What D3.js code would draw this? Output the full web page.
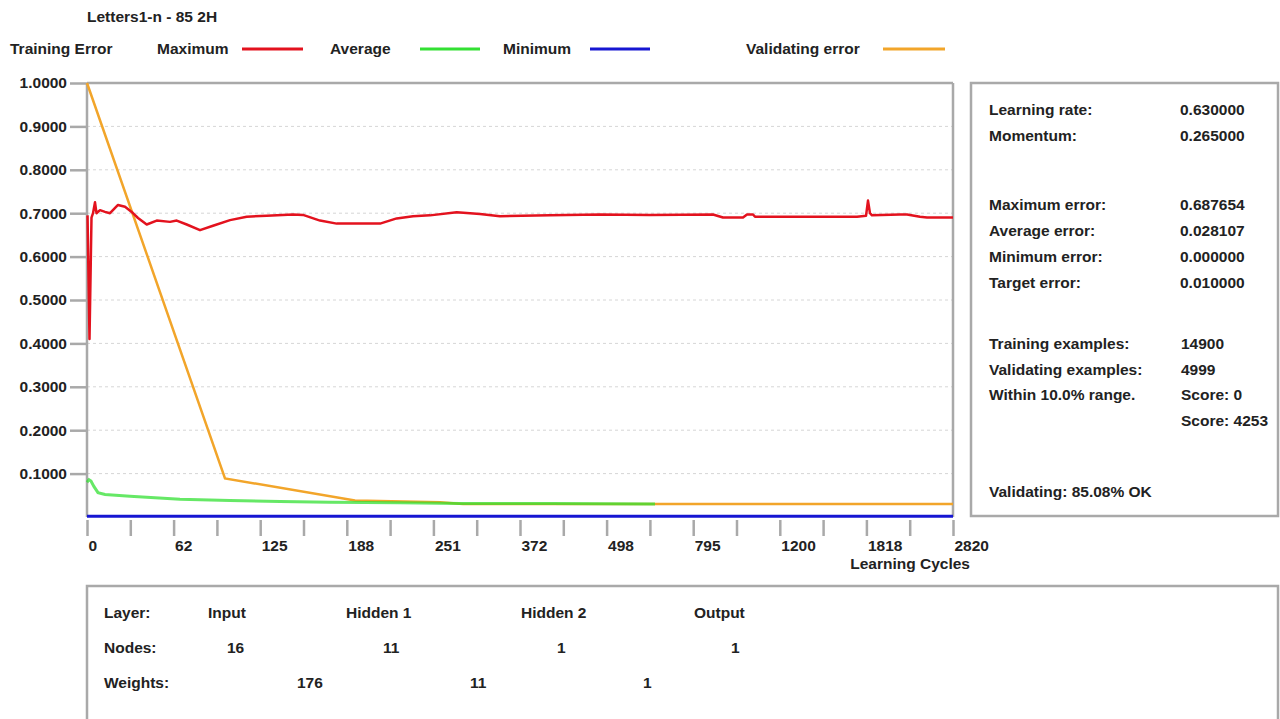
<!DOCTYPE html>
<html>
<head>
<meta charset="utf-8">
<script src="https://cdn.jsdelivr.net/npm/d3@7"></script>
<style>
  html, body { margin: 0; padding: 0; background: #fff; }
  svg { display: block; }
  text { font-family: "Liberation Sans", Arial, sans-serif; font-weight: bold; font-size: 15.5px; fill: #222; }
</style>
</head>
<body>
<svg id="chart" width="1280" height="719"></svg>
<script>
// ---------- data ----------
const title = "Letters1-n - 85 2H";
// x positions are in axis units (0..20 = the 21 ticks of the learning-cycle axis)
const xTickLabels = ["0","62","125","188","251","372","498","795","1200","1818","2820"];
const yTickValues = [0.1,0.2,0.3,0.4,0.5,0.6,0.7,0.8,0.9,1.0];

const maxPos = [0.012,0.058,0.104,0.139,0.185,0.219,0.300,0.416,0.531,0.716,0.878,1.032,1.178,1.379,1.610,1.917,2.072,2.303,2.610,2.910,3.303,3.688,4.150,4.758,4.988,5.381,5.767,6.767,7.152,7.529,7.921,8.538,9.076,9.538,10.693,11.848,13.002,14.457,14.688,15.150,15.242,15.381,15.427,17.783,17.991,18.037,18.083,18.129,18.776,18.938,19.238,19.400,20.000];
const maxVal = [0.695,0.410,0.690,0.700,0.725,0.700,0.707,0.703,0.700,0.719,0.715,0.703,0.689,0.674,0.683,0.680,0.683,0.674,0.661,0.671,0.684,0.692,0.694,0.697,0.696,0.683,0.676,0.676,0.688,0.693,0.695,0.702,0.698,0.693,0.695,0.697,0.696,0.697,0.690,0.690,0.697,0.697,0.692,0.692,0.694,0.729,0.700,0.695,0.697,0.697,0.692,0.690,0.690];

const avgPos = [0.000,0.046,0.092,0.162,0.254,0.416,0.993,2.148,3.303,4.457,5.612,7.229,8.614,10.693,13.118];
const avgVal = [0.080,0.086,0.083,0.070,0.056,0.052,0.048,0.041,0.038,0.036,0.034,0.033,0.031,0.031,0.030];

const minPos = [0, 20];
const minVal = [0.002, 0.002];

const valPos = [0.000,3.187,6.189,8.152,8.684,20.000];
const valVal = [1.000,0.089,0.038,0.034,0.030,0.030];

const legendItems = ["Maximum","Average","Minimum","Validating error"];

const infoLabels = ["Learning rate:","Momentum:","Maximum error:","Average error:","Minimum error:","Target error:","Training examples:","Validating examples:","Within 10.0% range.","","Validating: 85.08% OK"];
const infoValues = ["0.630000","0.265000","0.687654","0.028107","0.000000","0.010000","14900","4999","Score: 0","Score: 4253",""];

const layerNames = ["Input","Hidden 1","Hidden 2","Output"];
const layerNodes = ["16","11","1","1"];
const layerWeights = ["176","11","1"];

// ---------- drawing ----------
const svg = d3.select("#chart");
const colors = { max: "#e3121e", avg: "#33e033", min: "#1616d2", val: "#f2a52a" };
const frameColor = "#a9a9a9";

const x = d3.scaleLinear().domain([0, 20]).range([87, 953]);
const y = d3.scaleLinear().domain([0, 1]).range([517, 83]);

// title
svg.append("text").attr("x", 87).attr("y", 22).text(title);

// legend
const legY = 54;
svg.append("text").attr("x", 10).attr("y", legY).text("Training Error");
const legendX = [157, 330, 503, 746];
const legendLine = [[242,303],[420,480],[590,650],[883,945]];
const legendCol = [colors.max, colors.avg, colors.min, colors.val];
legendItems.forEach((t, i) => {
  svg.append("text").attr("x", legendX[i]).attr("y", legY).text(t);
  svg.append("line").attr("x1", legendLine[i][0]).attr("x2", legendLine[i][1])
    .attr("y1", legY - 5).attr("y2", legY - 5)
    .attr("stroke", legendCol[i]).attr("stroke-width", 3);
});

// gridlines
svg.append("g").selectAll("line").data(yTickValues.filter(v => v < 1)).join("line")
  .attr("x1", x(0)).attr("x2", x(20))
  .attr("y1", d => y(d)).attr("y2", d => y(d))
  .attr("stroke", "#d6d6d6").attr("stroke-width", 1).attr("stroke-dasharray", "3,3");

// y axis
const yAxis = d3.axisLeft(y).tickValues(yTickValues).tickSize(17).tickPadding(3)
  .tickFormat(d3.format(".4f"));
const gy = svg.append("g").attr("transform", `translate(${x(0)},0)`).call(yAxis);
gy.select(".domain").remove();
gy.selectAll(".tick line").attr("stroke", frameColor).attr("stroke-width", 2.5);
gy.selectAll(".tick text").attr("font-size", 15.5).attr("font-family", null).attr("fill", "#222");

// x axis
const xAxis = d3.axisBottom(x).tickValues(d3.range(0, 21)).tickSize(16).tickPadding(4)
  .tickFormat(d => d % 2 === 0 ? xTickLabels[d / 2] : "");
const gx = svg.append("g").attr("transform", `translate(0,520)`).call(xAxis);
gx.select(".domain").remove();
gx.selectAll(".tick line").attr("stroke", frameColor).attr("stroke-width", 2.5);
gx.selectAll(".tick text").attr("font-size", 15.5).attr("font-family", null).attr("fill", "#222")
  .attr("text-anchor", "start").attr("x", 1);
svg.append("text").attr("x", 970).attr("y", 569).attr("text-anchor", "end").text("Learning Cycles");

// frame
svg.append("line").attr("x1", x(0)).attr("x2", x(20)).attr("y1", y(1)).attr("y2", y(1))
  .attr("stroke", frameColor).attr("stroke-width", 2.5);
svg.append("line").attr("x1", x(0)).attr("x2", x(0)).attr("y1", y(1)).attr("y2", y(0))
  .attr("stroke", frameColor).attr("stroke-width", 2.5);
svg.append("line").attr("x1", x(20)).attr("x2", x(20)).attr("y1", y(1)).attr("y2", y(0))
  .attr("stroke", frameColor).attr("stroke-width", 2.5);

// series
const line = d3.line().x(d => x(d[0])).y(d => y(d[1]));
const zip = (a, b) => a.map((v, i) => [v, b[i]]);
svg.append("path").datum(zip(valPos, valVal)).attr("d", line)
  .attr("fill", "none").attr("stroke", colors.val).attr("stroke-width", 2.5);
svg.append("path").datum(zip(avgPos, avgVal)).attr("d", line)
  .attr("fill", "none").attr("stroke", colors.avg).attr("stroke-width", 3).attr("stroke-opacity", 0.75);
svg.append("path").datum(zip(minPos, minVal)).attr("d", line)
  .attr("fill", "none").attr("stroke", colors.min).attr("stroke-width", 3);
svg.append("path").datum(zip(maxPos, maxVal)).attr("d", line)
  .attr("fill", "none").attr("stroke", colors.max).attr("stroke-width", 2.5)
  .attr("stroke-linejoin", "round");

// right info panel
svg.append("rect").attr("x", 971).attr("y", 83).attr("width", 307).attr("height", 433)
  .attr("fill", "none").attr("stroke", frameColor).attr("stroke-width", 2.5);
const infoY = [110, 136, 205, 231, 257, 283, 344, 370, 395, 421, 492];
infoLabels.forEach((t, i) => {
  if (t) svg.append("text").attr("x", 989).attr("y", infoY[i] + 5).text(t);
  if (infoValues[i]) svg.append("text").attr("x", i >= 6 ? 1181 : 1180).attr("y", infoY[i] + 5).text(infoValues[i]);
});

// bottom layer panel
svg.append("rect").attr("x", 87).attr("y", 586).attr("width", 1191).attr("height", 160)
  .attr("fill", "none").attr("stroke", frameColor).attr("stroke-width", 2.5);
const rowY = [618, 653, 688];
svg.append("text").attr("x", 104).attr("y", rowY[0]).text("Layer:");
svg.append("text").attr("x", 104).attr("y", rowY[1]).text("Nodes:");
svg.append("text").attr("x", 104).attr("y", rowY[2]).text("Weights:");
const nameX = [208, 346, 521, 694];
const nodeX = [227, 383, 557, 731];
const weightX = [297, 470, 643];
layerNames.forEach((t, i) => svg.append("text").attr("x", nameX[i]).attr("y", rowY[0]).text(t));
layerNodes.forEach((t, i) => svg.append("text").attr("x", nodeX[i]).attr("y", rowY[1]).text(t));
layerWeights.forEach((t, i) => svg.append("text").attr("x", weightX[i]).attr("y", rowY[2]).text(t));
</script>
</body>
</html>
